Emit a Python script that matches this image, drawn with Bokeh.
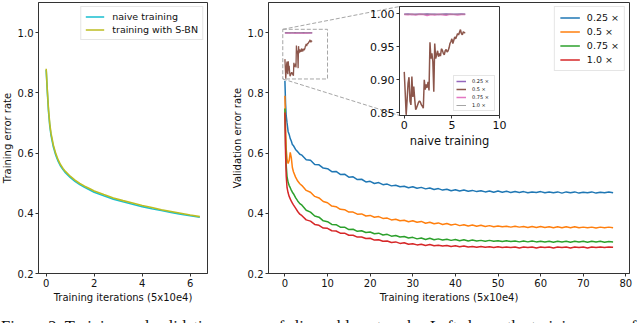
from bokeh.plotting import figure
from bokeh.models import (Range1d, FixedTicker, Legend, LegendItem, Label,
                          PrintfTickFormatter)
from bokeh.embed import file_html
from bokeh.resources import INLINE

# ---------------------------------------------------------------- data
# left panel: training error
train_iters = [0, 0.05, 0.1, 0.15, 0.2, 0.3, 0.4, 0.5, 0.6, 0.7, 0.8, 1.0, 1.2, 1.4,
               1.6, 1.8, 2.0, 2.4, 2.8, 3.2, 3.6, 4.0, 4.4, 4.8, 5.2, 5.6, 6.0, 6.4]
train_err_naive = [0.876, 0.800, 0.735, 0.690, 0.660, 0.620, 0.593, 0.572, 0.557, 0.545,
                   0.535, 0.519, 0.506, 0.495, 0.486, 0.478, 0.470, 0.458, 0.447, 0.438,
                   0.430, 0.422, 0.415, 0.409, 0.403, 0.397, 0.392, 0.387]
train_err_sbn = [0.880, 0.806, 0.742, 0.697, 0.666, 0.626, 0.598, 0.577, 0.561, 0.549,
                 0.539, 0.523, 0.510, 0.499, 0.490, 0.482, 0.474, 0.462, 0.451, 0.442,
                 0.434, 0.426, 0.419, 0.412, 0.406, 0.400, 0.394, 0.389]
train_labels = ["naive training", "training with S-BN"]

# right panel: validation error of the four widths (S-BN)
val_iters = [0, 0.15, 0.3, 0.5, 0.75, 1.0, 1.25, 1.5, 1.75, 2.0, 2.5, 3.0, 3.5,
             4, 5, 6, 7, 8, 9, 10, 11, 12, 13, 14, 15, 16, 17, 18, 19, 20, 21, 22, 23,
             24, 25, 26, 27, 28, 29, 30, 31, 32, 33, 34, 35, 36, 37, 38, 39, 40, 41, 42,
             43, 44, 45, 46, 47, 48, 49, 50, 51, 52, 53, 54, 55, 56, 57, 58, 59, 60, 61,
             62, 63, 64, 65, 66, 67, 68, 69, 70, 71, 72, 73, 74, 75, 76, 77]
val_err_025 = [0.840, 0.765, 0.725, 0.700, 0.672, 0.662, 0.648, 0.640, 0.628, 0.625, 0.612, 0.604, 0.596,
               0.593, 0.578, 0.576, 0.562, 0.561, 0.550, 0.548, 0.538, 0.539, 0.529,
               0.530, 0.520, 0.521, 0.512, 0.513, 0.504, 0.506, 0.499, 0.502, 0.495,
               0.497, 0.491, 0.493, 0.488, 0.490, 0.485, 0.488, 0.483, 0.486, 0.481,
               0.484, 0.479, 0.482, 0.477, 0.480, 0.475, 0.478, 0.474, 0.477, 0.473,
               0.476, 0.472, 0.475, 0.471, 0.474, 0.470, 0.474, 0.470, 0.473, 0.469,
               0.472, 0.469, 0.472, 0.468, 0.471, 0.469, 0.472, 0.468, 0.471, 0.468,
               0.471, 0.467, 0.471, 0.468, 0.471, 0.467, 0.470, 0.468, 0.471, 0.467,
               0.470, 0.468, 0.471, 0.468]
val_err_050 = [0.790, 0.690, 0.615, 0.580, 0.565, 0.575, 0.602, 0.585, 0.552, 0.538, 0.520, 0.507, 0.498,
               0.492, 0.476, 0.470, 0.456, 0.451, 0.439, 0.435, 0.424, 0.422, 0.413,
               0.412, 0.404, 0.404, 0.397, 0.398, 0.391, 0.393, 0.387, 0.389, 0.383,
               0.384, 0.378, 0.380, 0.375, 0.377, 0.372, 0.375, 0.370, 0.373, 0.367,
               0.370, 0.365, 0.368, 0.363, 0.366, 0.361, 0.364, 0.359, 0.362, 0.358,
               0.361, 0.357, 0.360, 0.356, 0.359, 0.355, 0.358, 0.355, 0.357, 0.354,
               0.357, 0.354, 0.356, 0.353, 0.356, 0.353, 0.356, 0.353, 0.355, 0.352,
               0.355, 0.352, 0.355, 0.352, 0.355, 0.352, 0.354, 0.352, 0.354, 0.351,
               0.354, 0.352, 0.354, 0.352]
val_err_075 = [0.748, 0.630, 0.560, 0.522, 0.503, 0.492, 0.485, 0.477, 0.470, 0.465, 0.452, 0.441, 0.432,
               0.427, 0.410, 0.404, 0.391, 0.387, 0.375, 0.372, 0.363, 0.362, 0.354,
               0.354, 0.346, 0.347, 0.340, 0.342, 0.336, 0.338, 0.332, 0.334, 0.328,
               0.330, 0.324, 0.326, 0.321, 0.323, 0.318, 0.320, 0.315, 0.318, 0.313,
               0.317, 0.312, 0.315, 0.311, 0.314, 0.310, 0.313, 0.309, 0.312, 0.308,
               0.311, 0.308, 0.310, 0.307, 0.310, 0.307, 0.309, 0.306, 0.309, 0.306,
               0.308, 0.305, 0.308, 0.305, 0.308, 0.305, 0.307, 0.305, 0.307, 0.304,
               0.307, 0.305, 0.307, 0.304, 0.307, 0.305, 0.307, 0.304, 0.307, 0.305,
               0.307, 0.304, 0.306, 0.305]
val_err_100 = [0.735, 0.600, 0.525, 0.485, 0.468, 0.456, 0.448, 0.440, 0.434, 0.428, 0.417, 0.406, 0.397,
               0.392, 0.378, 0.374, 0.363, 0.360, 0.351, 0.350, 0.342, 0.341, 0.334,
               0.334, 0.327, 0.327, 0.321, 0.321, 0.316, 0.317, 0.311, 0.312, 0.307,
               0.308, 0.303, 0.305, 0.300, 0.302, 0.297, 0.299, 0.295, 0.297, 0.293,
               0.296, 0.292, 0.294, 0.291, 0.293, 0.290, 0.292, 0.289, 0.291, 0.288,
               0.290, 0.287, 0.290, 0.287, 0.289, 0.286, 0.289, 0.286, 0.288, 0.286,
               0.288, 0.285, 0.288, 0.286, 0.288, 0.285, 0.288, 0.286, 0.288, 0.285,
               0.288, 0.286, 0.288, 0.285, 0.288, 0.286, 0.288, 0.285, 0.288, 0.286,
               0.288, 0.286, 0.288, 0.287]
width_labels = ["0.25 \u00d7", "0.5 \u00d7", "0.75 \u00d7", "1.0 \u00d7"]

# inset: naive training (no S-BN)
naive_iters = [0.0, 0.1, 0.2, 0.3, 0.4, 0.5, 0.6, 0.7, 0.8, 0.9,
               1.0, 1.1, 1.2, 1.3, 1.4, 1.5, 1.6, 1.7, 1.8, 1.9,
               2.0, 2.1, 2.2, 2.3, 2.4, 2.5, 2.6, 2.7, 2.8, 2.9,
               3.0, 3.1, 3.2, 3.3, 3.4, 3.5, 3.6, 3.7, 3.8, 3.9,
               4.0, 4.1, 4.2, 4.3, 4.4, 4.5, 4.6, 4.7, 4.8, 4.9,
               5.0, 5.1, 5.2, 5.3, 5.4, 5.5, 5.6, 5.7, 5.8, 5.9,
               6.0, 6.1, 6.2, 6.3, 6.4]
naive_err_050 = [0.912, 0.880, 0.847, 0.870, 0.895, 0.904, 0.868, 0.862, 0.905, 0.874,
                 0.890, 0.870, 0.855, 0.858, 0.862, 0.866, 0.868, 0.866, 0.862, 0.860,
                 0.857, 0.900, 0.885, 0.893, 0.888, 0.897, 0.884, 0.957, 0.932, 0.940,
                 0.928, 0.882, 0.955, 0.932, 0.938, 0.944, 0.935, 0.940, 0.936, 0.947,
                 0.945, 0.940, 0.938, 0.944, 0.946, 0.942, 0.944, 0.948, 0.955, 0.958,
                 0.962, 0.955, 0.960, 0.965, 0.962, 0.966, 0.970, 0.968, 0.972, 0.976,
                 0.970, 0.968, 0.973, 0.971, 0.972]
naive_iters_c = [0.0, 0.4, 0.8, 1.2, 1.6, 2.0, 2.4, 2.8, 3.2, 3.6, 4.0, 4.4, 4.8, 5.2, 5.6, 6.0, 6.4]
naive_err_025 = [0.9992, 0.9995, 0.9990, 0.9994, 0.9993, 0.9991, 0.9995, 0.9992, 0.9994,
                 0.9990, 0.9993, 0.9995, 0.9991, 0.9994, 0.9992, 0.9995, 0.9993]
naive_err_075 = [0.9990, 0.9985, 0.9993, 0.9980, 0.9992, 0.9988, 0.9975, 0.9990, 0.9983,
                 0.9992, 0.9986, 0.9978, 0.9991, 0.9987, 0.9982, 0.9990, 0.9988]
naive_err_100 = [0.9994, 0.9992, 0.9995, 0.9991, 0.9994, 0.9993, 0.9995, 0.9992, 0.9994,
                 0.9991, 0.9995, 0.9993, 0.9994, 0.9992, 0.9995, 0.9993, 0.9994]

# zoomed window shown in the inset
zoom_x = (-0.5, 10.0)
zoom_y = (0.846, 1.011)

caption = ("Figure 2: Training and validation curves of slimmable networks. "
           "Left shows the training error of")

# ---------------------------------------------------------------- style
FONT = "DejaVu Sans"
AXC = "#333333"
TXT = "#111111"
C_NAIVE, C_SBN = "#17becf", "#bcbd22"
C_W = ["#1f77b4", "#ff7f0e", "#2ca02c", "#d62728"]
C_N = ["#9467bd", "#8c564b", "#e377c2", "#7f7f7f"]


def padded(vals, frac=0.05):
    lo, hi = min(vals), max(vals)
    pad = (hi - lo) * frac
    return lo - pad, hi + pad


def style(p, tick_size="10px", label_size="10px"):
    p.xgrid.visible = False
    p.ygrid.visible = False
    p.outline_line_color = AXC
    p.outline_line_width = 1
    p.outline_line_alpha = 1
    p.axis.axis_line_color = AXC
    p.axis.major_tick_line_color = AXC
    p.axis.major_tick_in = 0
    p.axis.major_tick_out = 3
    p.axis.minor_tick_line_color = None
    p.axis.major_label_text_font = FONT
    p.axis.major_label_text_font_size = tick_size
    p.axis.major_label_text_color = TXT
    p.axis.major_label_standoff = 2
    p.axis.axis_label_text_font = FONT
    p.axis.axis_label_text_font_size = label_size
    p.axis.axis_label_text_font_style = "normal"
    p.axis.axis_label_text_color = TXT
    p.yaxis.axis_label_standoff = 2
    p.xaxis.axis_label_standoff = 2


def pos(left, top):
    return {"position": "absolute", "left": f"{left}px", "top": f"{top}px"}


BORDER_L = 46   # generous fixed left border so the frame lands where wanted

# ---------------------------------------------------------------- left panel
FL_FRAME_X = 38
fl = figure(frame_width=169, frame_height=271,
            min_border_left=BORDER_L, min_border_right=6, min_border_top=2, min_border_bottom=36,
            x_range=Range1d(*padded(train_iters)), y_range=Range1d(0.2, 1.1),
            output_backend="svg", toolbar_location=None, styles=pos(FL_FRAME_X - BORDER_L, 0))
style(fl)
fl.xaxis.ticker = FixedTicker(ticks=[0, 2, 4, 6])
fl.yaxis.ticker = FixedTicker(ticks=[0.2, 0.4, 0.6, 0.8, 1.0])
fl.yaxis.formatter = PrintfTickFormatter(format="%.1f")
fl.xaxis.axis_label = "Training iterations (5x10e4)"
fl.yaxis.axis_label = "Training error rate"
r1 = fl.line(train_iters, train_err_naive, line_color=C_NAIVE, line_width=1.6)
r2 = fl.line(train_iters, train_err_sbn, line_color=C_SBN, line_width=1.6)
leg_l = Legend(items=[LegendItem(label=train_labels[0], renderers=[r1]),
                      LegendItem(label=train_labels[1], renderers=[r2])],
               location="top_right", margin=4, padding=4, spacing=2,
               glyph_width=19, glyph_height=11, label_height=11, label_standoff=8,
               label_text_font=FONT, label_text_font_size="9.5px", label_text_color=TXT,
               border_line_color="#cccccc", border_line_width=1, background_fill_alpha=0.8)
fl.add_layout(leg_l)

# ---------------------------------------------------------------- right panel
FR_FRAME_X, FR_FRAME_Y, FR_W, FR_H = 268, 2, 361, 271
fr = figure(frame_width=FR_W, frame_height=FR_H,
            min_border_left=BORDER_L, min_border_right=6, min_border_top=FR_FRAME_Y,
            min_border_bottom=36,
            x_range=Range1d(*padded(val_iters)), y_range=Range1d(0.2, 1.1),
            output_backend="svg", toolbar_location=None,
            styles=pos(FR_FRAME_X - BORDER_L, 0))
style(fr)
fr.xaxis.ticker = FixedTicker(ticks=[0, 10, 20, 30, 40, 50, 60, 70, 80])
fr.yaxis.ticker = FixedTicker(ticks=[0.2, 0.4, 0.6, 0.8, 1.0])
fr.yaxis.formatter = PrintfTickFormatter(format="%.1f")
fr.xaxis.axis_label = "Training iterations (5x10e4)"
fr.yaxis.axis_label = "Validation error rate"

wr = []
for ys, c in zip([val_err_025, val_err_050, val_err_075, val_err_100], C_W):
    wr.append(fr.line(val_iters, ys, line_color=c, line_width=1.5))
fr.line(naive_iters_c, naive_err_025, line_color=C_N[0], line_width=1.3)
fr.line(naive_iters, naive_err_050, line_color=C_N[1], line_width=1.3)
fr.line(naive_iters_c, naive_err_075, line_color=C_N[2], line_width=1.3)
fr.line(naive_iters_c, naive_err_100, line_color=C_N[3], line_width=1.0, line_alpha=0.7)

# inset geometry (page pixels) and the zoom box / connectors
FI_FRAME_X, FI_FRAME_Y, FI_W, FI_H = 399, 6, 100, 109
FI_BL = 37
fr.quad(left=[zoom_x[0]], right=[zoom_x[1]], bottom=[zoom_y[0]], top=[zoom_y[1]],
        fill_color=None, line_color="#a6a6a6", line_dash="4 2", line_width=1)


def page_to_fr(px, py):
    x0, x1 = fr.x_range.start, fr.x_range.end
    y0, y1 = fr.y_range.start, fr.y_range.end
    return (x0 + (px - FR_FRAME_X) / FR_W * (x1 - x0),
            y1 - (py - FR_FRAME_Y) / FR_H * (y1 - y0))


ins_tl = page_to_fr(FI_FRAME_X, FI_FRAME_Y)
ins_bl = page_to_fr(FI_FRAME_X, FI_FRAME_Y + FI_H)
fr.segment(x0=[zoom_x[0], zoom_x[0]], y0=[zoom_y[1], zoom_y[0]],
           x1=[ins_tl[0], ins_bl[0]], y1=[ins_tl[1], ins_bl[1]],
           line_color="#a6a6a6", line_dash="4 2", line_width=1)

leg_r = Legend(items=[LegendItem(label=l, renderers=[r]) for l, r in zip(width_labels, wr)],
               location="top_right", margin=4, padding=5, spacing=3,
               glyph_width=20, glyph_height=11, label_height=11, label_standoff=7,
               label_text_font=FONT, label_text_font_size="9.5px", label_text_color=TXT,
               border_line_color="#cccccc", border_line_width=1, background_fill_alpha=0.8)
fr.add_layout(leg_r)

# ---------------------------------------------------------------- inset
fi = figure(frame_width=FI_W, frame_height=FI_H,
            min_border_left=FI_BL, min_border_right=10, min_border_top=FI_FRAME_Y,
            min_border_bottom=35,
            x_range=Range1d(*zoom_x), y_range=Range1d(*zoom_y),
            border_fill_color=None, background_fill_color="white",
            output_backend="svg", toolbar_location=None,
            styles=pos(FI_FRAME_X - FI_BL, 0))
style(fi, tick_size="11px", label_size="11.5px")
fi.axis.axis_label_standoff = 2
fi.xaxis.ticker = FixedTicker(ticks=[0, 5, 10])
fi.yaxis.ticker = FixedTicker(ticks=[0.85, 0.90, 0.95, 1.00])
fi.yaxis.formatter = PrintfTickFormatter(format="%.2f")
fi.xaxis.axis_label = "naive training"
nr = [fi.line(naive_iters_c, naive_err_025, line_color=C_N[0], line_width=1.5),
      fi.line(naive_iters, naive_err_050, line_color=C_N[1], line_width=1.5),
      fi.line(naive_iters_c, naive_err_075, line_color=C_N[2], line_width=1.5),
      fi.line(naive_iters_c, naive_err_100, line_color=C_N[3], line_width=1.0, line_alpha=0.7)]
leg_i = Legend(items=[LegendItem(label=l, renderers=[r]) for l, r in zip(width_labels, nr)],
               location="bottom_right", margin=4, padding=2, spacing=2,
               glyph_width=10, glyph_height=6, label_height=6, label_standoff=6,
               label_text_font=FONT, label_text_font_size="5px", label_text_color=TXT,
               border_line_color="#cccccc", border_line_width=1, background_fill_alpha=0.8)
fi.add_layout(leg_i)

# ---------------------------------------------------------------- caption strip
fc = figure(width=640, height=12, min_border=0, x_range=Range1d(0, 1), y_range=Range1d(0, 1),
            x_axis_location=None, y_axis_location=None, outline_line_color=None,
            output_backend="svg", toolbar_location=None, styles=pos(0, 311))
fc.grid.visible = False
fc.add_layout(Label(x=0.5, y=-3, x_units="screen", y_units="screen", text=caption,
                    text_font="Liberation Serif", text_font_size="16.5px",
                    text_baseline="alphabetic", text_color="#111111"))

p = [fl, fr, fi, fc]
open("out.html", "w").write(file_html(p, INLINE))
